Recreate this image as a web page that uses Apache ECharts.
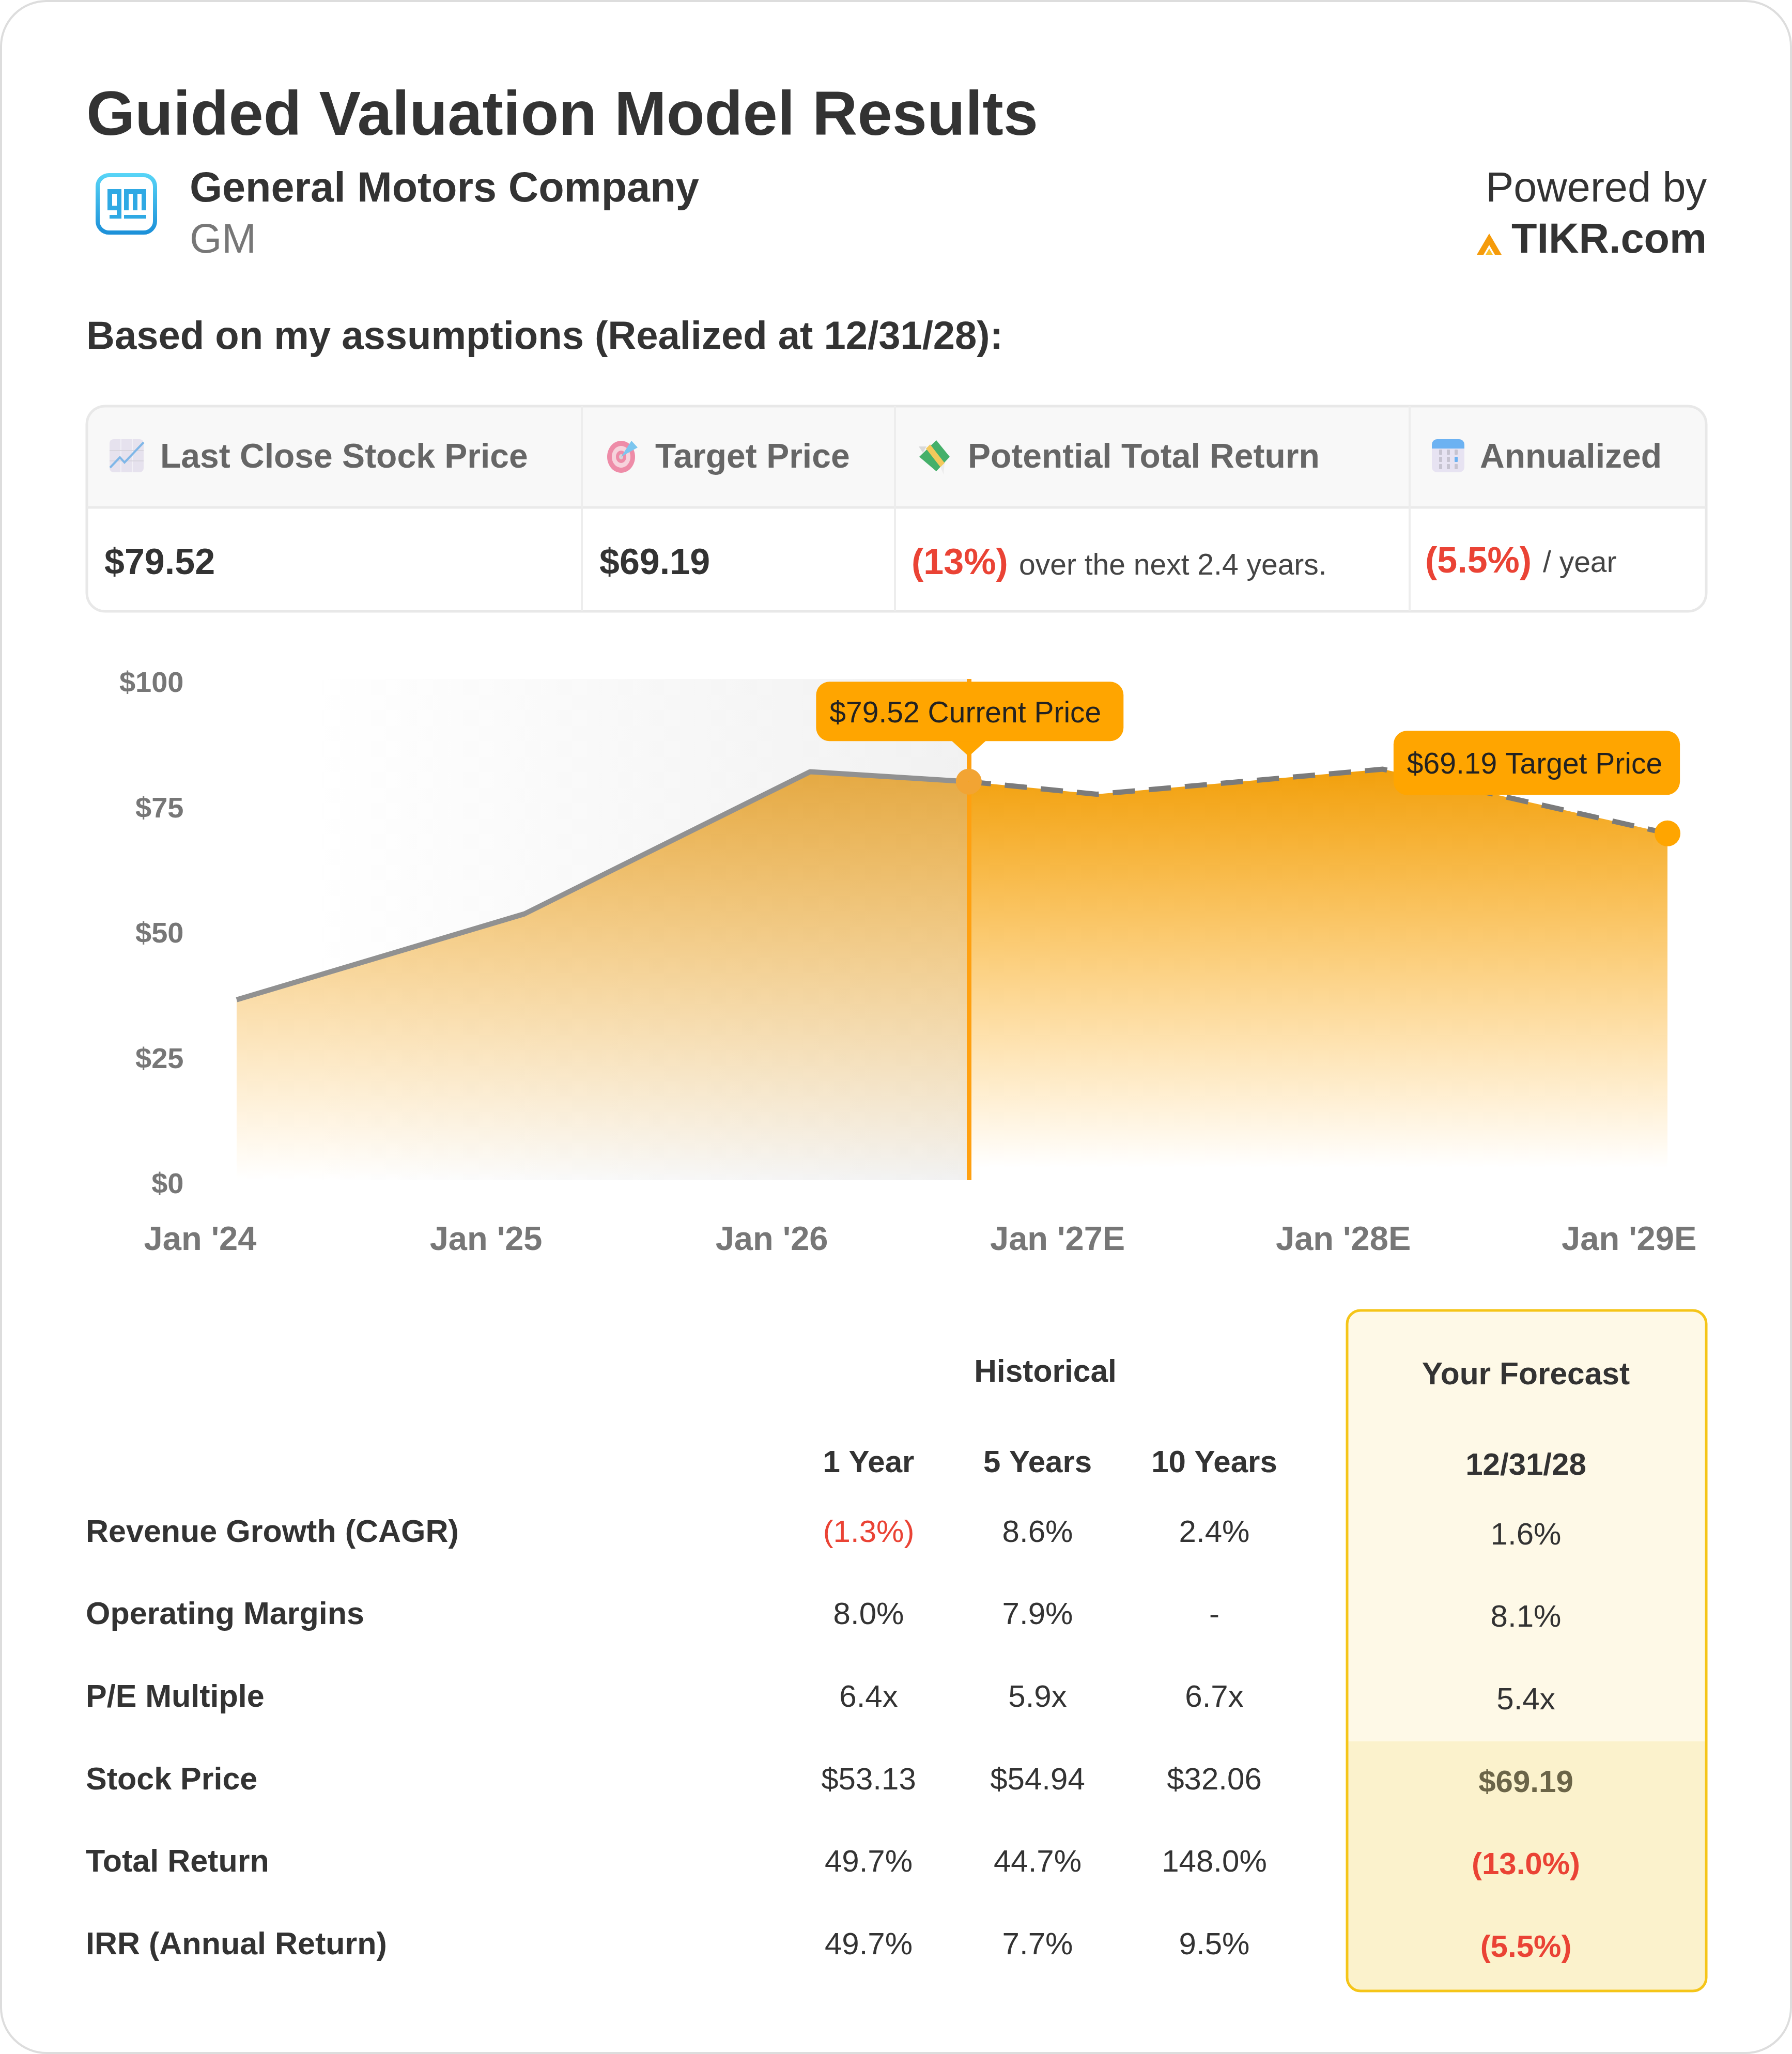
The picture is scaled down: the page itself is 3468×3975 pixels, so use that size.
<!DOCTYPE html>
<html>
<head>
<meta charset="utf-8">
<style>html,body{margin:0;padding:0;background:#fff}#c{width:3468px;height:3975px}</style>
<script src="https://cdn.jsdelivr.net/npm/echarts@6/dist/echarts.min.js"></script>
</head>
<body>
<div id="c"></div>
<script>
// ---------- data ----------
const histYears = [2024.131, 2025.138, 2026.138, 2026.693];
const histPrices = [36.0, 53.13, 81.5, 79.52];
const forecastYears = [2026.693, 2027.14, 2028.142, 2029.138];
const forecastPrices = [79.52, 77.0, 82.0, 69.19];
const xTickLabels = ["Jan '24", "Jan '25", "Jan '26", "Jan '27E", "Jan '28E", "Jan '29E"];
const currentPrice = 79.52;
const targetPrice = 69.19;

const summaryHeaders = ["Last Close Stock Price", "Target Price", "Potential Total Return", "Annualized"];
const rowLabels = ["Revenue Growth (CAGR)", "Operating Margins", "P/E Multiple", "Stock Price", "Total Return", "IRR (Annual Return)"];
const oneYear = ["(1.3%)", "8.0%", "6.4x", "$53.13", "49.7%", "49.7%"];
const fiveYears = ["8.6%", "7.9%", "5.9x", "$54.94", "44.7%", "7.7%"];
const tenYears = ["2.4%", "-", "6.7x", "$32.06", "148.0%", "9.5%"];
const forecast = ["1.6%", "8.1%", "5.4x", "$69.19", "(13.0%)", "(5.5%)"];

// ---------- page drawing ----------
const FONT = '"Liberation Sans", Arial, Helvetica, sans-serif';
const RED = '#EA4335', DARK = '#333333';
const g = [];
function text(s, x, y, size, weight, fill, align) {
  g.push({type: 'text', z: 10, silent: true, style: {text: s, x, y, font: `${weight} ${size}px ${FONT}`, fill, align: align || 'left', verticalAlign: 'middle'}});
}
function rect(x, y, w, h, r, fill, stroke, lw, z) {
  g.push({type: 'rect', z: z == null ? 1 : z, silent: true, shape: {x, y, width: w, height: h, r}, style: {fill: fill || 'none', stroke: stroke || 'none', lineWidth: lw || 0}});
}
function poly(points, fill, z, stroke, lw, isLine) {
  g.push({type: isLine ? 'polyline' : 'polygon', z: z == null ? 5 : z, silent: true, shape: {points}, style: {fill: isLine ? 'none' : fill, stroke: stroke || 'none', lineWidth: lw || 0}});
}
function ellipse(cx, cy, rx, ry, fill, z) {
  g.push({type: 'ellipse', z: z == null ? 5 : z, silent: true, shape: {cx, cy, rx, ry}, style: {fill}});
}
function line(x1, y1, x2, y2, stroke, lw, z) {
  g.push({type: 'line', z: z == null ? 3 : z, silent: true, shape: {x1, y1, x2, y2}, style: {stroke, lineWidth: lw}});
}

// card
rect(2, 2, 3464, 3971, 88, '#ffffff', '#dddddd', 4, 0);

// title block
text('Guided Valuation Model Results', 167, 228, 121, 'bold', DARK);
text('General Motors Company', 367, 368, 81, 'bold', DARK);
text('GM', 367, 467, 80, 'normal', '#777777');
text('Powered by', 3303, 368, 81, 'normal', DARK, 'right');
text('TIKR.com', 3303, 467, 81, 'bold', DARK, 'right');
text('Based on my assumptions (Realized at 12/31/28):', 167, 654, 76, 'bold', DARK);

// gm logo
const gmGrad = {type: 'linear', x: 0, y: 0, x2: 0, y2: 1, colorStops: [{offset: 0, color: '#58D5F7'}, {offset: 1, color: '#1B8FD8'}]};
rect(189, 339, 111, 111, 22, '#ffffff', gmGrad, 8, 3);
const bars = [[208, 366, 27, 9], [208, 366, 9, 41], [208, 398, 27, 9], [226, 366, 9, 50], [212, 416, 23, 7],
              [240, 366, 43, 9], [240, 366, 9, 41], [257, 366, 9, 41], [274, 366, 9, 41], [240, 416, 43, 7]];
bars.forEach(b => rect(b[0], b[1], b[2], b[3], 0, '#2FA9E4', null, 0, 4));

// tikr logo
poly([[2858, 493], [2882, 452], [2906, 493], [2893, 493], [2882, 474], [2871, 493]], '#F59B0B', 5);
poly([[2875, 493], [2882, 481], [2889, 493]], '#FBC02D', 5);

// summary table
rect(168, 786, 3134, 197, [35, 35, 0, 0], '#F8F8F8', null, 0, 1);
rect(168, 786, 3134, 397, 35, 'none', '#E8E8E8', 5, 2);
line(168, 982, 3302, 982, '#EAEAEA', 5);
[1126, 1732, 2728].forEach(x => line(x, 786, x, 1183, '#EDEDED', 4));

text(summaryHeaders[0], 310, 887, 66, 'bold', '#666666');
text(summaryHeaders[1], 1268, 887, 66, 'bold', '#666666');
text(summaryHeaders[2], 1873, 887, 66, 'bold', '#666666');
text(summaryHeaders[3], 2864, 887, 66, 'bold', '#666666');

text('$79.52', 202, 1092, 70, 'bold', DARK);
text('$69.19', 1160, 1092, 70, 'bold', DARK);
text('(13%)', 1764, 1092, 70, 'bold', RED);
text('over the next 2.4 years.', 1972, 1096, 57, 'normal', '#444444');
text('(5.5%)', 2758, 1089, 70, 'bold', RED);
text('/ year', 2986, 1091, 57, 'normal', '#444444');

// icon: chart
rect(212, 850, 66, 64, 8, '#E6E2EE', null, 0, 4);
[234, 256].forEach(x => line(x, 850, x, 914, '#F2F0F6', 2, 5));
[872, 892].forEach(y => line(212, y, 278, y, '#D8D5DE', 2, 5));
poly([[213, 905], [232, 885], [241, 895], [278, 856]], null, 6, '#7FB7E8', 4, true);
// icon: target
ellipse(1202, 884, 27, 31, '#EE8CA8', 4);
ellipse(1202, 884, 18, 21, '#F6D3DC', 5);
ellipse(1202, 884, 10, 12, '#EE8CA8', 6);
ellipse(1202, 884, 4, 5, '#D9D2D6', 7);
poly([[1202, 884], [1222, 853], [1234, 866]], '#7CC6EF', 8);
// icon: money
poly([[1812, 852], [1838, 884], [1812, 912], [1779, 884]], '#45B06A', 4);
poly([[1792, 868], [1800, 860], [1828, 896], [1820, 904]], '#F3C95B', 5);
poly([[1778, 864], [1793, 864], [1786, 876]], '#D9D9D9', 3);
poly([[1820, 904], [1828, 896], [1826, 918]], '#ECECEC', 3);
// icon: calendar
rect(2771, 850, 63, 64, 10, '#E7E3F2', null, 0, 4);
rect(2771, 850, 63, 18, [10, 10, 0, 0], '#6CB2F2', null, 0, 5);
[2785, 2800, 2815].forEach((x, i) => [875, 889, 903].forEach((y, j) =>
  rect(x, y - 5, 6, 10, 1, (i === 2 && j === 1) ? '#6CB2F2' : '#C6C3D0', null, 0, 6)));

// forecast panel
rect(2607, 3370, 695, 483, [0, 0, 26, 26], '#FBF2CC', null, 0, 1);
rect(2607, 2536, 695, 834, [26, 26, 0, 0], '#FEF9E7', null, 0, 1);
rect(2607, 2536, 695, 1317, 26, 'none', '#F5C518', 5, 2);

// lower table
const colX = [1681, 2008, 2350];
const rowY = [2967, 3126, 3286, 3446, 3605, 3765];
const fcX = 2953;
text('Historical', 2023, 2657, 60.5, 'bold', DARK, 'center');
text('Your Forecast', fcX, 2662, 60.5, 'bold', DARK, 'center');
text('1 Year', colX[0], 2832, 60, 'bold', DARK, 'center');
text('5 Years', colX[1], 2832, 60, 'bold', DARK, 'center');
text('10 Years', colX[2], 2832, 60, 'bold', DARK, 'center');
text('12/31/28', fcX, 2837, 60, 'bold', DARK, 'center');
rowLabels.forEach((label, i) => {
  text(label, 166, rowY[i], 61, 'bold', DARK);
  [oneYear, fiveYears, tenYears].forEach((col, c) => {
    const v = col[i];
    text(v, colX[c], rowY[i], 60, 'normal', v[0] === '(' ? RED : DARK, 'center');
  });
  const f = forecast[i];
  const bold = i >= 3;
  text(f, fcX, rowY[i] + 5, 60, bold ? 'bold' : 'normal', f[0] === '(' ? RED : (bold ? '#6B6548' : DARK), 'center');
});

// ---------- chart ----------
const ORANGE = '#FFA500';
const pair = (xs, ys) => xs.map((x, i) => [x, ys[i]]);
const hist = pair(histYears, histPrices);
const fc = pair(forecastYears, forecastPrices);
const curX = histYears[histYears.length - 1];
const tgtX = forecastYears[forecastYears.length - 1];

const option = {
  animation: false,
  backgroundColor: 'transparent',
  textStyle: {fontFamily: FONT},
  graphic: {elements: g},
  grid: {left: 385.5, top: 1314, width: 2841.5, height: 970, containLabel: false},
  xAxis: {
    type: 'value', min: 2024, max: tgtX, interval: 1,
    axisLine: {show: false}, axisTick: {show: false}, splitLine: {show: false},
    axisLabel: {
      color: '#777777', fontFamily: FONT, fontWeight: 'bold', fontSize: 65, margin: 85, padding: [0, 0, 0, 4],
      showMaxLabel: false, hideOverlap: false,
      formatter: v => Number.isInteger(v) ? (xTickLabels[v - 2024] || '') : ''
    }
  },
  yAxis: {
    type: 'value', min: 0, max: 100, interval: 25,
    axisLine: {show: false}, axisTick: {show: false}, splitLine: {show: false},
    axisLabel: {color: '#777777', fontFamily: FONT, fontWeight: 'bold', fontSize: 56, margin: 30, verticalAlign: 'top', lineHeight: 20, formatter: v => '$' + v}
  },
  series: [
    {
      type: 'line', name: 'Historical', data: hist, symbol: 'none', clip: false, z: 3,
      lineStyle: {color: '#919191', width: 10},
      areaStyle: {origin: 'start', opacity: 1, color: {type: 'linear', x: 0, y: 0, x2: 0, y2: 1, colorStops: [
        {offset: 0, color: 'rgba(226,156,36,0.85)'}, {offset: 1, color: 'rgba(255,170,20,0)'}]}},
      markArea: {silent: true, z: 1, itemStyle: {opacity: 1, color: {type: 'linear', x: 0, y: 0, x2: 1, y2: 0, colorStops: [
        {offset: 0.1, color: 'rgba(120,120,120,0)'}, {offset: 1, color: 'rgba(120,120,120,0.10)'}]}},
        data: [[{xAxis: histYears[0], yAxis: 100}, {xAxis: curX, yAxis: 0}]]}
    },
    {
      type: 'line', name: 'Forecast', data: fc, symbol: 'none', clip: false, z: 4,
      lineStyle: {color: '#7B7B7B', width: 10, type: [43, 27]},
      areaStyle: {origin: 'start', opacity: 1, color: {type: 'linear', x: 0, y: 0, x2: 0, y2: 1, colorStops: [
        {offset: 0, color: 'rgba(242,160,12,1)'}, {offset: 0.97, color: 'rgba(255,165,0,0)'}, {offset: 1, color: 'rgba(255,165,0,0)'}]}},
      markLine: {
        silent: true, symbol: 'none', z: 5, label: {show: false}, animation: false,
        data: [
          [{coord: [curX, 0], lineStyle: {color: '#FFA010', width: 9, type: 'solid'}}, {coord: [curX, 100]}],
          [{coord: [tgtX, targetPrice], lineStyle: {color: ORANGE, width: 4, type: 'solid'}}, {coord: [tgtX + 0.0001, 77]}]
        ]
      },
      markPoint: {
        silent: true, z: 8, animation: false,
        data: [
          {coord: [curX, currentPrice], symbol: 'circle', symbolSize: 50, itemStyle: {color: '#F2A433'}, label: {show: false}},
          {coord: [tgtX, targetPrice], symbol: 'circle', symbolSize: 50, itemStyle: {color: ORANGE}, label: {show: false}},
          {coord: [curX, currentPrice], symbol: 'triangle', symbolRotate: 180, symbolSize: [66, 30], symbolOffset: [0, -64], itemStyle: {color: ORANGE}, label: {show: false}},
          {coord: [curX, currentPrice], symbol: 'circle', symbolSize: 1, itemStyle: {color: ORANGE},
            label: {show: true, position: 'top', distance: 78, offset: [2, 0], formatter: '$' + currentPrice.toFixed(2) + ' Current Price',
              fontFamily: FONT, fontSize: 57, lineHeight: 57, color: '#222222', backgroundColor: ORANGE, borderRadius: 26, padding: [35, 43, 23, 26]}},
          {coord: [tgtX, targetPrice], symbol: 'circle', symbolSize: 1, itemStyle: {color: ORANGE},
            label: {show: true, position: 'top', distance: 74, offset: [-253, 0], formatter: '$' + targetPrice.toFixed(2) + ' Target Price',
              fontFamily: FONT, fontSize: 57, lineHeight: 57, color: '#222222', backgroundColor: ORANGE, borderRadius: 26, padding: [38, 34, 29, 26]}}
        ]
      }
    }
  ]
};
const chart = echarts.init(document.getElementById('c'), null, {renderer: 'canvas', devicePixelRatio: 1, width: 3468, height: 3975});
chart.setOption(option);
</script>
</body>
</html>
